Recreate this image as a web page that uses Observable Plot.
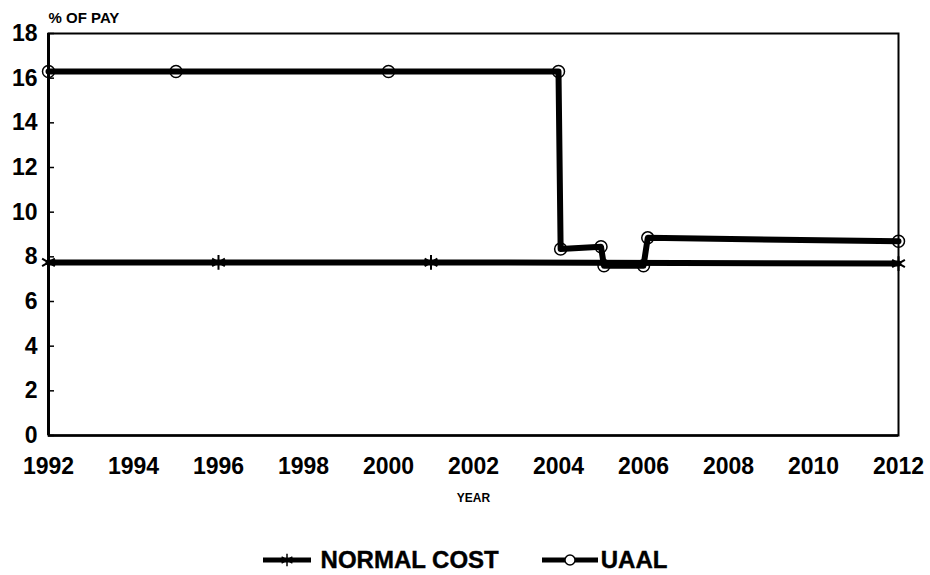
<!DOCTYPE html>
<html>
<head>
<meta charset="utf-8">
<script src="https://cdn.jsdelivr.net/npm/d3@7"></script>
<script src="https://cdn.jsdelivr.net/npm/@observablehq/plot@0.6"></script>
<style>
  html, body { margin: 0; padding: 0; background: #fff; }
  body { width: 930px; height: 575px; overflow: hidden; font-family: "Liberation Sans", Arial, sans-serif; font-weight: bold; }
  #legend { height: 60px; box-sizing: border-box; padding-top: 30px; display: flex; justify-content: center; align-items: center; font-size: 24px; color: #000; -webkit-text-stroke: 0.4px #000; }
  #legend .item { display: flex; align-items: center; }
  #legend svg { display: block; }
</style>
</head>
<body>
<div id="chart"></div>
<div id="legend"></div>
<script>
// ---- data ----
const xTicks = [1992, 1994, 1996, 1998, 2000, 2002, 2004, 2006, 2008, 2010, 2012];
const yTicks = [0, 2, 4, 6, 8, 10, 12, 14, 16, 18];

const normalYears  = [1992, 1996, 2001, 2012];
const normalValues = [7.75, 7.75, 7.75, 7.7];

const uaalYears  = [1992, 1995, 2000, 2004, 2004.05, 2005, 2005.07, 2006, 2006.1, 2012];
const uaalValues = [16.3, 16.3, 16.3, 16.3, 8.35, 8.45, 7.6, 7.6, 8.85, 8.7];

const seriesNames = ["NORMAL COST", "UAAL"];
const yLabel = "% OF PAY";
const xLabel = "YEAR";

// ---- build tables ----
const normal = normalYears.map((y, i) => ({year: y, value: normalValues[i]}));
const uaal = uaalYears.map((y, i) => ({year: y, value: uaalValues[i]}));

const font = "'Liberation Sans', Arial, sans-serif";
const heavy = {stroke: "#000", strokeWidth: 0.5};

const chart = Plot.plot({
  width: 930,
  height: 515,
  marginLeft: 48,
  marginRight: 32,
  marginTop: 33,
  marginBottom: 80,
  style: {fontFamily: font, fontWeight: "bold", color: "#000", background: "#fff"},
  x: {domain: [1992, 2012]},
  y: {domain: [0, 18]},
  marks: [
    Plot.frame({stroke: "#000", strokeWidth: 2}),
    Plot.ruleX([1992], {stroke: "#000", strokeWidth: 3}),
    Plot.ruleY([0], {stroke: "#000", strokeWidth: 2.5}),
    Plot.axisY(yTicks, {tickSize: -6, tickFormat: () => "", strokeWidth: 1.5, label: null}),
    Plot.axisY(yTicks, {tickSize: 0, tickPadding: 11, fontSize: 23, fontWeight: "bold", label: null, ...heavy}),
    Plot.axisX(xTicks, {tickSize: 0, tickPadding: 22, fontSize: 23, fontWeight: "bold", tickFormat: d => String(d), label: null, ...heavy}),
    Plot.text([yLabel], {frameAnchor: "top-left", dy: -21, dx: 0, textAnchor: "start", fontSize: 15, fontWeight: "bold", letterSpacing: 1.5, fill: "#000"}),
    Plot.text([xLabel], {frameAnchor: "bottom", dy: 66, fontSize: 12, fontWeight: "bold", letterSpacing: 2, fill: "#000"}),
    Plot.line(normal, {x: "year", y: "value", stroke: "#000", strokeWidth: 6}),
    Plot.line(uaal, {x: "year", y: "value", stroke: "#000", strokeWidth: 6}),
    Plot.dot(normal, {x: "year", y: "value", symbol: "asterisk", r: 7, stroke: "#000", strokeWidth: 2}),
    Plot.dot(uaal, {x: "year", y: "value", symbol: "circle", r: 6, stroke: "#000", fill: "none", strokeWidth: 1.5})
  ]
});
document.getElementById("chart").appendChild(chart);

// ---- legend ----
const legend = d3.select("#legend");
const symbols = ["asterisk", "circle"];
seriesNames.forEach((name, i) => {
  const item = legend.append("div").attr("class", "item").style("margin-left", i ? "43px" : "0");
  const w = i ? 56 : 48;
  const svg = item.append("svg").attr("width", w).attr("height", 20);
  svg.append("line").attr("x1", 0).attr("x2", w).attr("y1", 10).attr("y2", 10)
    .attr("stroke", "#000").attr("stroke-width", 5);
  const sym = d3.symbol(symbols[i] === "circle" ? d3.symbolCircle : d3.symbolAsterisk, symbols[i] === "circle" ? 80 : 110);
  svg.append("path").attr("d", sym()).attr("transform", `translate(${w / 2},10)`)
    .attr("fill", symbols[i] === "circle" ? "#fff" : "none").attr("stroke", "#000").attr("stroke-width", 1.5);
  item.append("span").text(name).style("margin-left", i ? "3px" : "10px");
});
</script>
</body>
</html>
